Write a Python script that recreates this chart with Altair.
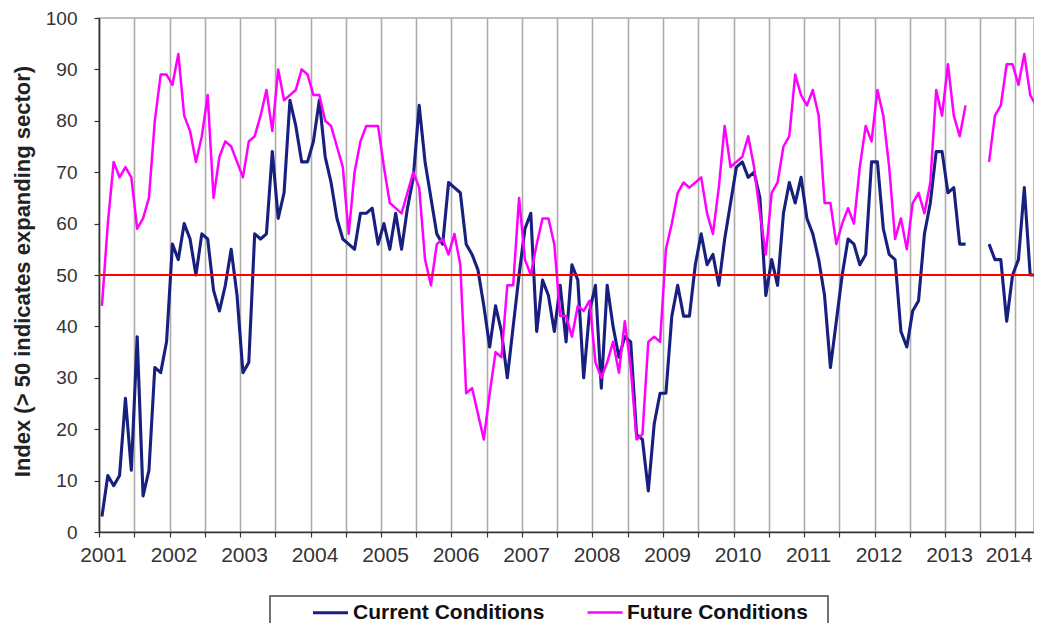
import altair as alt
import pandas as pd

# Monthly index values, Jan 2001 .. May 2014 (None = no survey published)
current = [
    3, 11, 9, 11, 26, 12, 38, 7, 12, 32, 31, 37,          # 2001
    56, 53, 60, 57, 50, 58, 57, 47, 43, 48, 55, 46,       # 2002
    31, 33, 58, 57, 58, 74, 61, 66, 84, 79, 72, 72,       # 2003
    76, 84, 73, 68, 61, 57, 56, 55, 62, 62, 63, 56,       # 2004
    60, 55, 62, 55, 63, 69, 83, 72, 65, 58, 56, 68,       # 2005
    67, 66, 56, 54, 51, 44, 36, 44, 39, 30, 40, 50,       # 2006
    59, 62, 39, 49, 46, 39, 48, 37, 52, 49, 30, 43,       # 2007
    48, 28, 48, 40, 34, 38, 37, 19, 18, 8, 21, 27,        # 2008
    27, 42, 48, 42, 42, 52, 58, 52, 54, 48, 57, 64,       # 2009
    71, 72, 69, 70, 65, 46, 53, 48, 62, 68, 64, 69,       # 2010
    61, 58, 53, 46, 32, 41, 50, 57, 56, 52, 54, 72,       # 2011
    72, 59, 54, 53, 39, 36, 43, 45, 58, 64, 74, 74,       # 2012
    66, 67, 56, 56, None, None, None, 56, 53, 53, 41, 50, # 2013
    53, 67, 50, 50, 58,                                   # 2014
]
future = [
    44, 60, 72, 69, 71, 69, 59, 61, 65, 80, 89, 89,       # 2001
    87, 93, 81, 78, 72, 77, 85, 65, 73, 76, 75, 72,       # 2002
    69, 76, 77, 81, 86, 78, 90, 84, 85, 86, 90, 89,       # 2003
    85, 85, 80, 79, 75, 71, 58, 70, 76, 79, 79, 79,       # 2004
    71, 64, 63, 62, 66, 70, 67, 53, 48, 56, 57, 54,       # 2005
    58, 52, 27, 28, 23, 18, 27, 35, 34, 48, 48, 65,       # 2006
    53, 50, 56, 61, 61, 56, 42, 42, 38, 44, 43, 45,       # 2007
    33, 30, 33, 37, 31, 41, 32, 18, 19, 37, 38, 37,       # 2008
    55, 60, 66, 68, 67, 68, 69, 62, 58, 67, 79, 71,       # 2009
    72, 73, 77, 71, 62, 54, 66, 68, 75, 77, 89, 85,       # 2010
    83, 86, 81, 64, 64, 56, 60, 63, 60, 71, 79, 76,       # 2011
    86, 81, 71, 57, 61, 55, 64, 66, 62, 68, 86, 81,       # 2012
    91, 81, 77, 83, None, None, None, 72, 81, 83, 91, 91, # 2013
    87, 93, 85, 83, 84,                                   # 2014
]
series_names = ["Current Conditions", "Future Conditions"]
series_colors = ["#18207f", "#ff00ff"]
first_year = 2001
threshold = [50]

rows = []
for name, vals in zip(series_names, [current, future]):
    seg = 0
    prev_none = False
    for i, v in enumerate(vals):
        if v is None:
            prev_none = True
            continue
        if prev_none:
            seg += 1
            prev_none = False
        rows.append({"month": i + 0.5, "value": v, "series": name, "seg": f"{name}-{seg}"})
df = pd.DataFrame(rows)

n_months = len(current)
plot_w = 935
last_tick = (n_months - 1) // 12 * 12
x_scale = alt.Scale(domain=[0, plot_w / 5.875], nice=False, zero=False)
y_scale = alt.Scale(domain=[0, 100], nice=False)

lines = alt.Chart(df).mark_line(clip=True, strokeJoin="round").encode(
    x=alt.X(
        "month:Q",
        scale=x_scale,
        title=None,
        axis=alt.Axis(
            values=list(range(0, n_months, 6)),
            labelExpr=f"datum.value % 12 == 0 ? '' + ({first_year} + datum.value / 12) : ''",
            grid=True,
            gridColor="#ababab",
            gridWidth=1.6,
            tickSize=5,
            labelPadding=7,
            labelOffset={"expr": f"datum.value == {last_tick} ? -7 : 4"},
            labelFlush=False,
            labelOverlap=False,
            labelFontSize=21,
        ),
    ),
    y=alt.Y(
        "value:Q",
        scale=y_scale,
        axis=alt.Axis(
            values=list(range(0, 101, 10)),
            grid=False,
            tickSize=5,
            labelPadding=17,
            labelFontSize=19,
            title="Index (> 50 indicates expanding sector)",
            titleFontSize=22,
            titleFontWeight="bold",
            titleColor="#222222",
            titleX=-77,
            titleY=253,
            titleAngle=270,
            titleAlign="center",
            titleBaseline="middle",
        ),
    ),
    color=alt.Color(
        "series:N",
        scale=alt.Scale(domain=series_names, range=series_colors),
        legend=alt.Legend(
            orient="none",
            legendX=212,
            legendY=575,
            direction="horizontal",
            title=None,
            symbolType="stroke",
            symbolSize=1225,
            symbolStrokeWidth=2.8,
            labelFont="Liberation Sans",
            labelFontWeight="bold",
            labelFontSize=21,
            labelColor="#111111",
            labelOffset=3,
            labelLimit=400,
            columnPadding=37,
            padding=0,
        ),
    ),
    strokeWidth=alt.StrokeWidth(
        "series:N", scale=alt.Scale(domain=series_names, range=[3.1, 2.5]), legend=None
    ),
    detail="seg:N",
)

rule = alt.Chart(pd.DataFrame({"y": threshold})).mark_rule(
    color="#ff0000", strokeWidth=2.2
).encode(y=alt.Y("y:Q", scale=y_scale))

box = alt.Chart(pd.DataFrame({"k": [0]})).mark_rect(
    fill="white", fillOpacity=0, stroke="#444444", strokeWidth=1.5
).encode(
    x=alt.value(171), x2=alt.value(729), y=alt.value(578), y2=alt.value(660)
)

chart = alt.layer(lines, rule, box).properties(
    width=plot_w,
    height=514,
    autosize=alt.AutoSizeParams(type="none"),
    padding={"left": 91, "top": 10, "right": 0, "bottom": 91},
).configure_view(
    stroke="#a8a8a8", strokeWidth=1.5
).configure_axis(
    labelFont="Liberation Sans",
    titleFont="Liberation Sans",
    labelColor="#333333",
    domainColor="#333333",
    domainWidth=1.5,
    tickColor="#333333",
    tickWidth=1.2,
)

chart.save("out.html", embed_options={"renderer": "svg", "actions": False})
